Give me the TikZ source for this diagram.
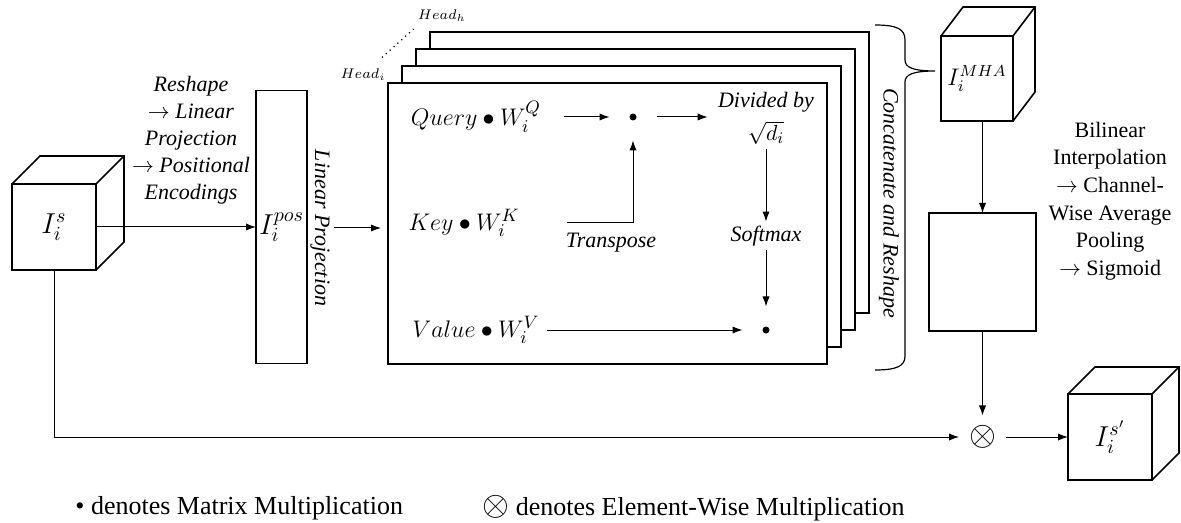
\documentclass[tikz,border=0pt]{standalone}
\usepackage{fontspec}
\setmainfont{Liberation Serif}
\usetikzlibrary{arrows.meta}

\tikzset{
  box/.style={draw, line width=0.8pt, inner sep=0pt, outer sep=0pt},
  face/.style={box, font=\fontsize{14}{16}\selectfont},
  headbox/.style={box, fill=white, minimum width=219.5pt, minimum height=140.5pt},
  note/.style={font=\fontsize{11}{13.5}\selectfont\itshape, align=center, inner sep=2pt},
  term/.style={font=\fontsize{13}{15}\selectfont},
  headlbl/.style={font=\fontsize{7}{8}\selectfont, inner sep=1pt},
  dotop/.style={circle, fill, inner sep=0pt, minimum size=3.5pt, outer sep=10pt},
  link/.style={->, line width=0.5pt},
}

\begin{document}
\begin{tikzpicture}[x=0.5pt, y=-0.5pt, >={Latex[length=5pt,width=3.6pt]}]
\useasboundingbox (0,0) rectangle (1181,523);

% input and embedding
\node[face, minimum width=42pt, minimum height=43pt] (src) at (54,227) {$I_i^s$};
\node[face, minimum width=25.5pt, minimum height=136.5pt] (pos) at (281.5,227) {$I_i^{pos}$};
\node[note] (embed) at (191,140) {Reshape\\$\rightarrow$ Linear\\Projection\\$\rightarrow$ Positional\\Encodings};
\node[note, rotate=-90] (linproj) at (320,228) {Linear Projection};

% attention heads, back to front
\coordinate (hc) at (607.5,223.5);
\foreach \k in {3,2,1}
  \node[headbox] (head\k) at ([shift={(14*\k,-17*\k)}]hc) {};
\node[headbox] (heads) at (hc) {};
\node[headlbl, anchor=south east] (headi) at (heads.north west) {$Head_i$};
\node[headlbl, anchor=south] (headh) at ([shift={(12,-8)}]head3.north west) {$Head_h$};
\draw[dotted, line width=0.6pt] ([shift={(-6,-9)}]headi.north east) -- ([shift={(-2,5)}]headh.south west);

% inside one head
\node[term] (query) at (476,117) {$Query \bullet W_i^Q$};
\node[term] (key) at (464,223) {$Key \bullet W_i^K$};
\node[term] (value) at (476,330) {$Value \bullet W_i^V$};
\node[dotop] (dot1) at (633,117) {};
\node[dotop] (dot2) at (766,330) {};
\node[note] (scale) at (766,118) {Divided by\\[3pt]$\sqrt{d_i}$};
\node[note] (softmax) at (766,236) {Softmax};
\node[note] (transpose) at (611,243) {Transpose};

\draw[link, shorten <=8pt] (query) -- (dot1);
\draw[link, shorten >=3pt] (dot1) -- (dot1 -| scale.west);
\draw[link, shorten <=20pt] (key) -| (dot1);
\draw[link] (scale) -- (softmax);
\draw[link] (softmax) -- (dot2);
\draw[link] (value) -- (dot2);

% concatenation brace
\draw[line width=0.6pt] (875,25) .. controls (897,25) and (905,29) .. (905,40) -- (905,60)
  .. controls (905,67) and (912,71) .. (935,71) .. controls (912,71) and (905,75) .. (905,82)
  -- (905,356) .. controls (905,366) and (897,370) .. (875,370);
\node[note, rotate=-90] (concat) at (889,203) {Concatenate and Reshape};

% gating branch
\node[face, font=\fontsize{12}{14}\selectfont, minimum width=36pt, minimum height=42.5pt] (mha) at (977,78.5) {$I_i^{MHA}$};
\node[box, minimum width=53.5pt, minimum height=59pt] (gate) at (982.5,272) {};
\node[note, font=\fontsize{11}{13.85}\selectfont] (pool) at (1110,201)
  {Bilinear\\Interpolation\\$\rightarrow$ Channel-\\Wise Average\\Pooling\\$\rightarrow$ Sigmoid};
\node[font=\fontsize{17}{18}\selectfont, inner sep=0pt, outer sep=5pt] (otimes) at (982.5,437) {$\otimes$};
\node[face, minimum width=42pt, minimum height=43pt] (out) at (1110,437) {$I_i^{s'}$};

% cube depth
\foreach \c/\dx/\dy in {src/28/28, mha/22/29, out/27/27}
  \draw[box] (\c.north west) -- ++(\dx,-\dy) -| ([shift={(\dx,-\dy)}]\c.south east) -- (\c.south east)
    (\c.north east) -- ++(\dx,-\dy);

\draw[link] (src) -- (pos);
\draw[link, shorten >=3.5pt] (linproj.north) -- (linproj.north -| heads.west);
\draw[link] (gate.north |- mha.south) -- (gate.north);
\draw[link] (gate) -- (otimes);
\draw[link] (src.south) |- (otimes);
\draw[link] (otimes) -- (out);

% legend
\node[font=\fontsize{13}{15}\selectfont, anchor=west, inner sep=0pt] (legdot) at (75,508) {\textbullet{} denotes Matrix Multiplication};
\node[font=\fontsize{13}{15}\selectfont, anchor=west, inner sep=0pt] (legotimes) at (482,508) {{\fontsize{16}{16}\selectfont$\otimes$} denotes Element-Wise Multiplication};
\end{tikzpicture}
\end{document}
